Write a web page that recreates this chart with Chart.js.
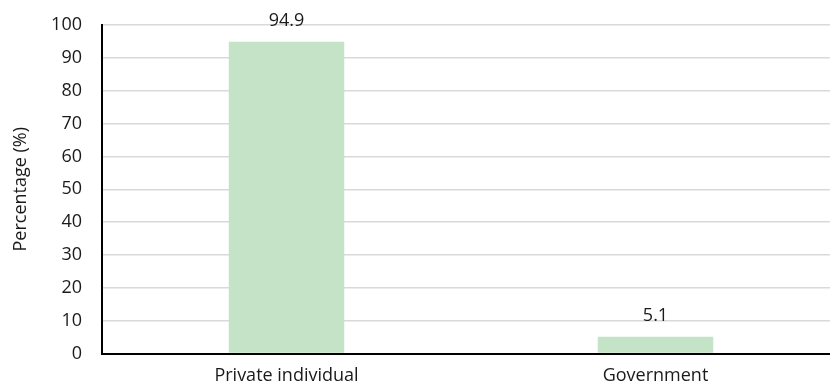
<!DOCTYPE html>
<html>
<head>
<meta charset="utf-8">
<script src="https://cdn.jsdelivr.net/npm/chart.js@4.4.1/dist/chart.umd.min.js"></script>
<style>
  html, body { margin: 0; padding: 0; background: #fff; overflow: hidden; }
  #wrap { width: 842px; height: 392px; position: relative; }
</style>
</head>
<body>
<div id="wrap"><canvas id="chart"></canvas></div>
<script>
const categories = ["Private individual", "Government"];
const shares = [94.9, 5.1];
const yTicks = [0, 10, 20, 30, 40, 50, 60, 70, 80, 90, 100];

const FONT = "'Open Sans', 'Noto Sans', sans-serif";
const TEXT = "#1a1a1a";

// value labels above each bar
const barLabels = {
  id: "barLabels",
  afterDatasetsDraw(chart) {
    const ctx = chart.ctx;
    const meta = chart.getDatasetMeta(0);
    ctx.save();
    ctx.font = "18px " + FONT;
    ctx.fillStyle = TEXT;
    ctx.textAlign = "center";
    ctx.textBaseline = "alphabetic";
    meta.data.forEach((bar, i) => {
      ctx.fillText(shares[i].toFixed(1), bar.x, bar.y - 15.5);
    });
    ctx.restore();
  }
};

new Chart(document.getElementById("chart"), {
  type: "bar",
  data: {
    labels: categories,
    datasets: [{
      data: shares,
      backgroundColor: "#c5e3c6",
      categoryPercentage: 1,
      barPercentage: 0.313
    }]
  },
  options: {
    responsive: true,
    maintainAspectRatio: false,
    animation: false,
    layout: { padding: { top: 25, right: 2, left: 0, bottom: 0 } },
    plugins: { legend: { display: false }, tooltip: { enabled: false } },
    scales: {
      x: {
        grid: { display: false, drawTicks: false },
        border: { color: "#000", width: 2 },
        ticks: { color: TEXT, font: { family: FONT, size: 18 }, padding: 12 },
        afterFit(s) { s.height = 38.5; }
      },
      y: {
        min: 0,
        max: 100,
        afterBuildTicks(s) { s.ticks = yTicks.map(v => ({ value: v })); },
        grid: { color: "#d9d9d9", lineWidth: 1.5, drawTicks: false },
        border: { color: "#000", width: 2 },
        ticks: { color: TEXT, font: { family: FONT, size: 18 }, padding: 20 },
        title: {
          display: true,
          text: "Percentage (%)",
          color: TEXT,
          font: { family: FONT, size: 18 },
          padding: { top: 10, bottom: 0 }
        },
        // tick padding would otherwise push the plot top down
        afterFit(s) { s.width = 102; s.paddingTop = 0; s.paddingBottom = 0; }
      }
    }
  },
  plugins: [barLabels]
});
</script>
</body>
</html>
